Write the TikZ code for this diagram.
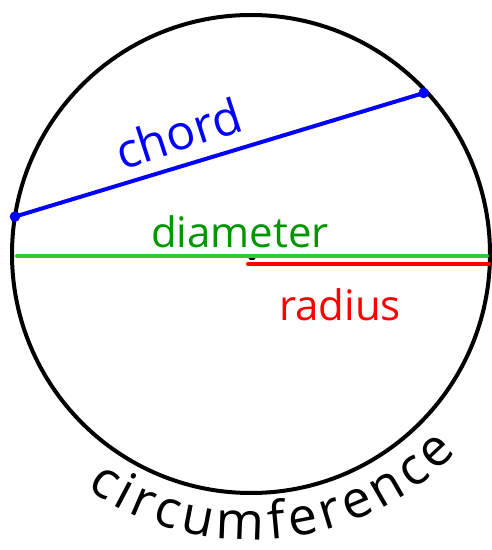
\documentclass[tikz,border=0pt]{standalone}
\usepackage{fontspec}
\setmainfont{Open Sans}
\usetikzlibrary{decorations.text}
\definecolor{chordblue}{RGB}{0,0,255}
\definecolor{diamgreen}{RGB}{50,200,50}
\definecolor{labelgreen}{RGB}{0,150,0}
\definecolor{radiusred}{RGB}{255,0,0}
\begin{document}
\begin{tikzpicture}[x=1pt, y=1pt,
    hand/.style={line width=4pt, line cap=round},
    word/.style={inner sep=0pt, font=\fontsize{#1}{#1}\selectfont}]
    \useasboundingbox (0,0) rectangle (492,550);
    \coordinate (c) at (251,296);

    % The circle
    \draw[hand, black] (c) circle (239pt);

    % Chord with its end points
    \coordinate (ca) at ([shift={(171:239pt)}]c);
    \coordinate (cb) at ([shift={(43:236pt)}]c);
    \draw[hand, chordblue] (ca) -- (cb);
    \filldraw[chordblue] (ca) circle (5pt);
    \filldraw[chordblue] (cb) circle (5pt);
    \node[word=48, text=chordblue, rotate=18] (chordlbl) at (178,417) {chord};

    % Diameter
    \coordinate (dl) at (17,294);
    \coordinate (dr) at (487,294);
    \draw[black, line width=3pt, line cap=round] (250,291) -- (254,291);
    \draw[hand, diamgreen] (dl) -- (dr);
    \node[word=42, text=labelgreen] (diamlbl) at (240,318) {diameter};

    % Radius
    \coordinate (rl) at (248,286);
    \coordinate (rr) at (489,286);
    \draw[hand, radiusred] (rl) -- (rr);
    \node[word=42, text=radiusred] (radlbl) at (340,245) {radius};

    % Circumference, written round the bottom
    \path[decorate, decoration={text along path, text align=fit to path,
        text={|\fontsize{52}{52}\selectfont|circumference}}]
        ([shift={(235:286pt)}]c) arc[start angle=235, end angle=316, radius=286pt];
\end{tikzpicture}
\end{document}
